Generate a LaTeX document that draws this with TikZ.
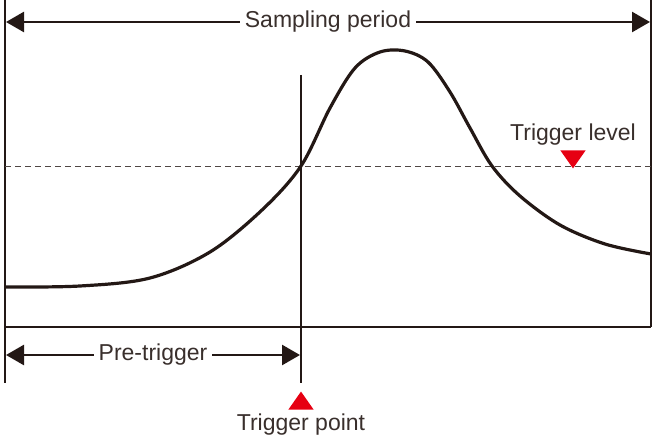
\documentclass[tikz,border=0pt]{standalone}
\usepackage{fontspec}
\setmainfont{Liberation Sans}
\usetikzlibrary{positioning,arrows.meta}
\usetikzlibrary{shapes.geometric}
\definecolor{ink}{HTML}{231815}
\definecolor{mark}{HTML}{E60012}
\tikzset{
frame/.style={draw=ink, line width=2.6pt},
dim/.style={draw=ink, line width=2.6pt, {Triangle[length=18pt,width=20pt]}-{Triangle[length=18pt,width=20pt]}},
lbl/.style={text=ink!90, font=\fontsize{23}{25}\selectfont, inner sep=2pt},
gap/.style={lbl, fill=white, inner xsep=5pt},
tri/.style={fill=mark, isosceles triangle, isosceles triangle apex angle=70, inner sep=0pt, minimum height=18pt}
}

\begin{document}
\begin{tikzpicture}[x=1pt,y=-1pt]
	\useasboundingbox (0,0) rectangle (658,446);
	% frame
	\coordinate (tl) at (5,0);
	\coordinate (tr) at (651,0);
	\coordinate (bl) at (5,383);
	\coordinate (br) at (651,327);
	\draw[frame] (tl) -- (bl);
	\draw[frame] (tr) -- (br);
	\draw[frame] (5,327) -- (br);
	% trigger level
	\draw[ink!80, dash pattern=on 6pt off 4pt, line width=0.8pt] (5,166) -- (651,166);
	% signal
	\draw[ink, line width=3.2pt, line join=round] plot[smooth, tension=0.55] coordinates {(5,287) (80,286) (150,278) (210,252) (262,210) (301,166) (330,108) (355,68) (380,52) (405,51) (428,62) (450,92) (470,128) (492,166) (520,196) (560,225) (605,244) (651,254)};
	% trigger point line
	\coordinate (tp) at (301,75);
	\coordinate (tb) at (301,383);
	\draw[frame] (tp) -- (tb);
	% sampling period
	\coordinate (sa) at (6,22);
	\coordinate (sb) at (650,22);
	\draw[dim] (sa) -- node[gap] (samp) {Sampling period} (sb);
	% pre-trigger
	\coordinate (pa) at (6,355);
	\coordinate (pb) at (300,355);
	\draw[dim] (pa) -- node[gap] (pre) {Pre-trigger} (pb);
	% markers
	\node[tri, shape border rotate=90] (up) at (301,403) {};
	\node[lbl, below=2pt of up] (tpt) {Trigger point};
	\node[tri, shape border rotate=-90] (down) at (573,157) {};
	\node[lbl, above=3pt of down] (tlev) {Trigger level};
\end{tikzpicture}
\end{document}
